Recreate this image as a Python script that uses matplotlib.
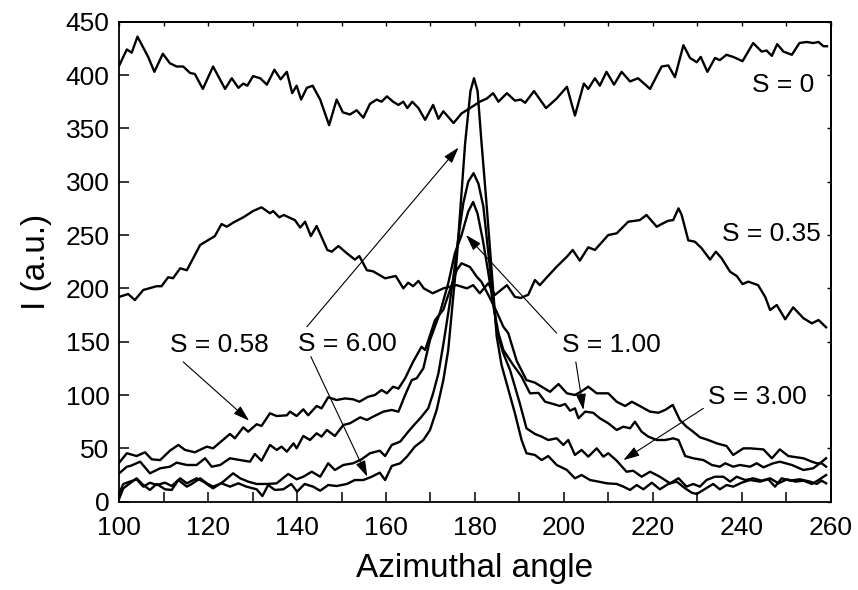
import numpy as np
import matplotlib
matplotlib.use("Agg")
import matplotlib.pyplot as plt
from matplotlib.ticker import MultipleLocator

plt.rcParams['font.family'] = ['Liberation Sans', 'DejaVu Sans']

# (azimuthal angle, intensity), one list per sample
s_0 = [(100, 409), (101.7, 424), (102.8, 421), (104.1, 436), (106.5, 417), (107.9, 403), (109.8, 420),
       (111.4, 411), (112.9, 408), (114.4, 408), (115.9, 402), (117, 401), (118.8, 387), (121.1, 408),
       (123.8, 387), (125.3, 397), (126.8, 388), (127.9, 392), (128.8, 390), (130.1, 399), (131.7, 397),
       (133.2, 391), (134.9, 405), (136.3, 396), (137.7, 403), (138.9, 383), (139.9, 390), (140.9, 377),
       (142.2, 388), (143.5, 390), (145.2, 377), (147.2, 353), (148.9, 377), (150.3, 365), (151.9, 363),
       (153.4, 367), (154.9, 360), (156.4, 373), (157.9, 377), (159, 375), (160.2, 380), (161.6, 375),
       (162.8, 372), (163.9, 375), (164.8, 369), (165.9, 375), (167.3, 369), (168.8, 358), (170.6, 372),
       (171.8, 359), (172.9, 366), (175.2, 355), (177, 364), (178.9, 369), (181.1, 375), (182.7, 378),
       (184.1, 383), (185.3, 375), (187.2, 383), (189, 376), (190.3, 377), (191.3, 374), (193.3, 385),
       (196, 369), (198.4, 378), (200.7, 389), (202.5, 362), (204.5, 392), (205.5, 387), (207, 397),
       (208.1, 390), (209.6, 403), (211.3, 391), (213, 403), (214.9, 394), (216.7, 397), (219.4, 387),
       (222, 408), (223.5, 409), (225, 398), (226.9, 428), (228.4, 416), (229.9, 412), (230.8, 417),
       (232.3, 403), (234, 416), (235.1, 414), (236.6, 419), (238.1, 417), (240.2, 413), (242.6, 430),
       (244.5, 422), (245.6, 423), (246.8, 418), (248, 429), (249.4, 422), (251.3, 419), (253, 430),
       (254.6, 431), (256.1, 430), (257.3, 431), (258.4, 427), (259.2, 427)]

s_035 = [(100, 192), (102, 194.7), (103.5, 189), (105.4, 198.5), (108.4, 202), (109.5, 202), (111, 210.4),
         (112.1, 209.5), (113.7, 218.8), (115.2, 217), (118.2, 240.7), (121.5, 249), (123, 260.3),
         (124.2, 257.8), (125.6, 261.6), (127.9, 266.6), (130.1, 272.5), (132, 276), (133.9, 270.4),
         (134.6, 272.5), (136, 266.6), (137, 268.8), (139.5, 264), (140.7, 257), (141.8, 262.5),
         (143.1, 249), (144.4, 258.5), (146.8, 236), (147.8, 234.4), (149.3, 239.7), (151.2, 232.9),
         (153, 227), (154, 230.3), (155.7, 217), (157.1, 216), (159.8, 209.4), (162.2, 211.6), (163.9, 200),
         (165, 205.3), (166.1, 202), (167.3, 207), (168.5, 200), (170.5, 195.4), (172.9, 200), (175.9, 203),
         (178.2, 200), (179.6, 203), (181.1, 195.4), (183, 204.7), (184.5, 193.8), (187.2, 203), (189, 192),
         (190.3, 191), (192, 194), (193.5, 207.8), (194.6, 203), (196.2, 210.4), (198.4, 220.3),
         (200.7, 229.7), (202, 236), (203.6, 226), (205.5, 238.5), (207, 236), (210, 250), (211.9, 251.6),
         (214.5, 262.5), (217.1, 264), (218.6, 268.8), (220.9, 257.8), (222, 260.3), (223.5, 263.4),
         (224.6, 264), (225.8, 275), (226.5, 269), (228, 245), (229.5, 243.7), (231, 237.6), (232.9, 227),
         (234.2, 234.4), (235.5, 228.2), (237.4, 215.6), (238.9, 211.6), (240.2, 204), (241.5, 206.3),
         (243.7, 203), (245.3, 192), (246.4, 179.7), (247.9, 184.4), (249.8, 171), (251.6, 182.2),
         (253.9, 172), (255.8, 167.2), (257.3, 170.3), (259, 163.5)]

s_058 = [(100, 36.6), (101.7, 45.4), (103.9, 42.8), (105.8, 46.3), (107.3, 39.7), (109.2, 39), (111.4, 47.8),
         (113.3, 53.2), (114.8, 48.5), (117, 46.3), (119.7, 51.6), (121.1, 50), (124.9, 63.5), (126, 59.4),
         (127.9, 69.7), (129, 65.6), (130.9, 72.6), (132, 71), (133.9, 82.9), (135.4, 80.3), (137.7, 81),
         (138.4, 84.4), (139.9, 80.3), (141.4, 86.6), (142.5, 81), (144.4, 89.7), (145.5, 87.5), (147, 97.9),
         (148.9, 95.3), (150.8, 96.8), (152.6, 96), (154, 93.7), (156, 98.4), (157.5, 100), (159, 104.7),
         (160.2, 101.6), (161.6, 107.8), (162.8, 106), (164.3, 115.7), (166.1, 131.2), (168, 145.3),
         (168.8, 142.2), (170.3, 161), (171, 170), (172.9, 180), (174.4, 198.5), (175.9, 217), (177, 223.5),
         (178.9, 220), (180.4, 211), (181.5, 206), (183.4, 190.7), (184.9, 178), (186.4, 164), (187.5, 158),
         (189.4, 132), (191.6, 114), (193.5, 111.6), (196.9, 103), (198.8, 110.3), (200.7, 101.6),
         (202.5, 100), (203.8, 103), (205.5, 107.8), (207.4, 101.6), (208.5, 101.6), (210, 101.6),
         (211.9, 93.7), (213.8, 89.7), (215.3, 93.7), (217.1, 89.7), (219.4, 84.4), (221.3, 83.4),
         (222.8, 86), (224.5, 90.7), (226.1, 76.6), (227.6, 70.3), (229.1, 65.6), (230.6, 60.4),
         (232.5, 57.8), (234.4, 54.7), (236.6, 52.2), (238.1, 43.8), (240.4, 50), (241.9, 50), (244.9, 49),
         (246.8, 40.7), (248.6, 49), (250.5, 42.8), (252.4, 41.6), (253.9, 40.7), (255.8, 37.5), (256.9, 36),
         (258, 36), (259, 32.8)]

s_100 = [(100, 26.6), (101.7, 32.8), (102.5, 33.5), (104.7, 37.5), (106.9, 26.6), (109.2, 31.3), (111.4, 32.8),
         (112.9, 36.6), (115.2, 34.4), (117.4, 34.4), (119.3, 40.7), (120.8, 32.8), (122.7, 34.4),
         (124.9, 40.7), (127.2, 39), (129.4, 37.5), (130.5, 44.7), (132, 38.4), (133.9, 53.2), (135.4, 48.5),
         (136.5, 51.6), (137.7, 46.9), (139.2, 54.7), (139.9, 50), (141.4, 61.6), (142.9, 57.8), (144.4, 64.1),
         (145.5, 61), (146.7, 67.2), (148.5, 61.6), (150.4, 71.9), (151.9, 73.5), (154.2, 79.1), (155.7, 76.6),
         (157.1, 79.7), (159.4, 84.4), (161.3, 86), (162.8, 84.4), (164.3, 100), (165.8, 114), (166.9, 115.7),
         (168.4, 125), (169.9, 151.6), (172.1, 176.6), (174, 204.7), (175.5, 232.9), (177, 250), (178.5, 272),
         (179.6, 281), (180.6, 270), (181.8, 245), (183, 215), (184.3, 180), (185.3, 158), (186.4, 142.2),
         (188.6, 128.2), (190.5, 117.2), (192.4, 101.6), (194.3, 102), (195.8, 93.7), (197.6, 91.6),
         (199.1, 89.7), (200.3, 91.6), (201.4, 85.3), (202.5, 87.5), (203.3, 78.2), (204.8, 84.4),
         (206.6, 83.4), (208.1, 78.2), (210, 73.5), (211.9, 67.2), (213.4, 70.3), (214.9, 68.8), (216, 75),
         (217.5, 65.6), (219, 61), (220.9, 57.8), (222.8, 57.8), (224.6, 59.4), (225.8, 57.8), (227.3, 42.8),
         (229.1, 40.7), (231.4, 39), (233.3, 34.4), (235.1, 32.8), (236.3, 36), (238.1, 32.8), (239.6, 34.4),
         (241.9, 32.8), (243.4, 36), (244.9, 32.2), (247.1, 36), (248.6, 37.5), (251.3, 34.4), (253.9, 29.7),
         (256.1, 31.3), (257.6, 36), (259, 40.7)]

s_300 = [(100, 7.8), (100.9, 16.6), (102.4, 18.8), (103.9, 21), (105.4, 14.1), (106.9, 17.8), (108.4, 15.6),
         (110.3, 17.8), (111.8, 14.7), (113.7, 21.9), (115.2, 17.2), (117.4, 21.9), (118.9, 18.8),
         (121.1, 12.5), (123.4, 18.8), (125.6, 26.6), (127.2, 21.9), (129, 18.8), (130.9, 16.6), (133.2, 16.6),
         (135.4, 17.2), (138, 26), (139.9, 21), (141.4, 23.4), (143.3, 28.1), (145.2, 23.4), (147, 36),
         (148.5, 29.7), (150.4, 34.4), (152.6, 36), (154.5, 39.7), (156.4, 45.4), (158.6, 47.8), (159.8, 42.8),
         (161.3, 53.2), (163.2, 56.3), (165, 65.6), (166.5, 72.8), (167.7, 78.2), (169.5, 87.5), (170.6, 101.6),
         (171.8, 120.4), (173, 150), (174.3, 185), (175.3, 215), (176.3, 248.4), (177.4, 280), (178.5, 300),
         (179.7, 308), (180.8, 298), (181.9, 276.6), (183.2, 226.6), (184.1, 190), (184.9, 161), (186.3, 140),
         (187.9, 123.5), (190.1, 92.2), (191.6, 68.8), (193.5, 63.5), (195, 61), (196.5, 57.8), (198.4, 59.4),
         (199.9, 53.2), (201, 57.8), (202.5, 43.8), (204, 48.5), (205.5, 42.2), (207.4, 50), (208.9, 42.2),
         (210, 45.4), (211.9, 38.4), (214.1, 28.1), (215.6, 29), (217.5, 23.4), (219.4, 28.1), (221.6, 23.4),
         (223.9, 17.2), (225.8, 22), (227.6, 14.1), (229.1, 16.6), (230.6, 14.1), (232.1, 20.3), (234, 23.4),
         (235.9, 23.4), (237.4, 18.8), (238.9, 23.4), (240.8, 20.3), (242.6, 21.9), (244.5, 19.7),
         (246.4, 21.9), (248.3, 17.2), (250.2, 21), (252.1, 18.8), (253.9, 19.7), (255.8, 16.6), (257.3, 20.3),
         (259, 25)]

s_600 = [(100, 3), (100.9, 12.5), (102.4, 17.2), (103.9, 21.9), (105.4, 15.6), (106.9, 11), (108.4, 16.6),
         (110.3, 11.6), (111.8, 11), (113.3, 20.3), (115.2, 14.1), (116.3, 16.6), (118.2, 21.9), (119.7, 17.2),
         (121.1, 14.1), (123, 17.2), (124.9, 14.1), (126.8, 17.2), (128.6, 14.1), (130.9, 11.6), (132.2, 5.3),
         (133.5, 15.6), (135, 11), (136.9, 11.6), (138.7, 16.6), (140, 9.4), (141.7, 16.6), (143.6, 14.1),
         (145.2, 10.3), (147, 15.6), (148.9, 14.7), (151.2, 16.6), (153, 20.3), (154.9, 20.3), (156.8, 23.4),
         (158.6, 27.2), (159.8, 20.3), (161.3, 33.5), (163.2, 36), (164.7, 42.2), (166.5, 51.6), (168.4, 57.8),
         (169.9, 67.2), (171.4, 86), (172.9, 114), (174, 142.2), (175.9, 226.6), (177.8, 336), (179, 385),
         (179.8, 397), (180.6, 385), (181.5, 336), (182.6, 280), (183.8, 215), (184.9, 155), (186, 128),
         (187.2, 110), (189, 82.9), (190.5, 57.8), (191.6, 45.4), (193.5, 43.8), (195, 39), (196.5, 42.8),
         (198.4, 34.4), (200.7, 29.7), (202.5, 21.9), (204, 25), (205.9, 20.3), (207.8, 18.8), (209.7, 17.2),
         (211.9, 16.6), (213.4, 14.1), (214.9, 11), (216.4, 15.6), (217.9, 11.6), (219.8, 17.8), (221.6, 11.6),
         (223.5, 16.6), (225.4, 18.8), (227.3, 12.5), (228.8, 8.4), (229.9, 7.2), (231.4, 11), (233.6, 16.6),
         (235.1, 11.6), (236.6, 15.6), (238.1, 14.1), (240, 17.8), (241.9, 20.3), (244.1, 18.8), (246, 21),
         (247.5, 14.1), (249, 21.9), (250.9, 19.7), (253.1, 21), (255.4, 18.8), (256.9, 16.6), (258, 19.7),
         (259, 17.2)]

curves = [s_0, s_035, s_058, s_100, s_300, s_600]

# label text, label centre, arrows (start -> tip) in data units
labels = ['S = 0', 'S = 0.35', 'S = 0.58', 'S = 1.00', 'S = 3.00', 'S = 6.00']
label_pos = [(249.3, 391), (246.6, 251), (122.5, 147), (210.6, 147), (243.6, 98.4), (151.3, 148)]
arrows = [[], [],
          [((114.4, 131), (129.2, 76))],
          [((198.4, 158), (178.0, 250)), ((202.7, 131), (204.4, 86))],
          [((231.4, 87.5), (213.4, 39))],
          [((142.2, 164), (176.3, 332)), ((143.1, 136), (155.8, 23.4))]]

fig = plt.figure(figsize=(8.58, 5.90), dpi=100)
ax = fig.add_axes([0.139, 0.1497, 0.829, 0.8135])

for c in curves:
    a = np.array(c)
    ax.plot(a[:, 0], a[:, 1], color='black', lw=1.7)

for lab, pos, arr in zip(labels, label_pos, arrows):
    ax.text(pos[0], pos[1], lab, fontsize=19, ha='center', va='center')
    for start, tip in arr:
        ax.annotate('', xy=tip, xytext=start,
                    arrowprops=dict(arrowstyle='-|>,head_length=0.7,head_width=0.22',
                                    lw=0.8, color='black', shrinkA=0, shrinkB=0,
                                    mutation_scale=14))

ax.set_xlim(100, 260)
ax.set_ylim(0, 450)
ax.xaxis.set_major_locator(MultipleLocator(20))
ax.xaxis.set_minor_locator(MultipleLocator(10))
ax.yaxis.set_major_locator(MultipleLocator(50))
ax.tick_params(which='both', direction='in', length=7, width=1.1, labelsize=19)
ax.tick_params(axis='x', pad=10)
ax.tick_params(axis='y', pad=7)

top = ax.secondary_xaxis('top')
top.xaxis.set_major_locator(MultipleLocator(10))
top.tick_params(direction='in', length=3, width=1.0, labeltop=False)
right = ax.secondary_yaxis('right')
right.yaxis.set_major_locator(MultipleLocator(50))
right.tick_params(direction='in', length=3, width=1.0, labelright=False)

for sp in list(ax.spines.values()) + [top.spines['top'], right.spines['right']]:
    sp.set_linewidth(1.3)

ax.set_xlabel('Azimuthal angle', fontsize=24, labelpad=10)
ax.set_ylabel('I (a.u.)', fontsize=24, labelpad=10)

fig.savefig('out.png', dpi=100)
